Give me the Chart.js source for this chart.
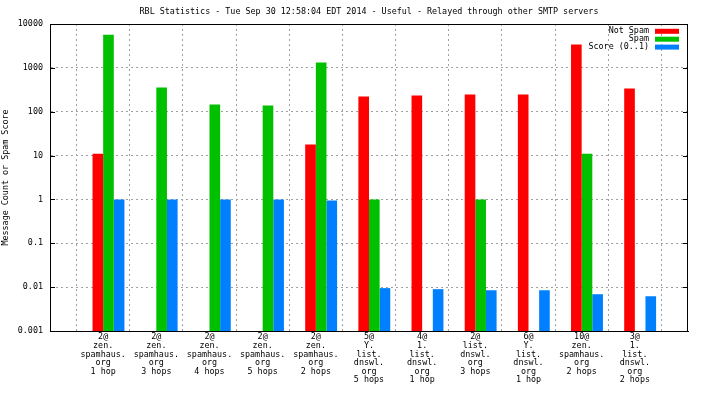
<!DOCTYPE html>
<html>
<head>
<meta charset="utf-8">
<script src="https://cdn.jsdelivr.net/npm/chart.js@4/dist/chart.umd.min.js"></script>
<style>
  body { margin: 0; background: #fff; }
  canvas { display: block; }
</style>
</head>
<body>
<canvas id="rbl" width="704" height="396"></canvas>
<script>
// categories: one multi-line label per RBL / hop count
const categories = [
    ['2@', 'zen.', 'spamhaus.', 'org', '1 hop'],
    ['2@', 'zen.', 'spamhaus.', 'org', '3 hops'],
    ['2@', 'zen.', 'spamhaus.', 'org', '4 hops'],
    ['2@', 'zen.', 'spamhaus.', 'org', '5 hops'],
    ['2@', 'zen.', 'spamhaus.', 'org', '2 hops'],
    ['5@', 'Y.', 'list.', 'dnswl.', 'org', '5 hops'],
    ['4@', '1.', 'list.', 'dnswl.', 'org', '1 hop'],
    ['2@', 'list.', 'dnswl.', 'org', '3 hops'],
    ['6@', 'Y.', 'list.', 'dnswl.', 'org', '1 hop'],
    ['10@', 'zen.', 'spamhaus.', 'org', '2 hops'],
    ['3@', '1.', 'list.', 'dnswl.', 'org', '2 hops'],
];
const notSpam = [11, null, null, null, 18, 223, 234, 247, 247, 3400, 340];
const spam = [5700, 356, 147, 139, 1320, 1, null, 1, null, 11, null];
const score = [1, 1, 1, 1, 0.95, 0.0095, 0.009, 0.0085, 0.0085, 0.0069, 0.0062];
const yTicks = [0.001, 0.01, 0.1, 1, 10, 100, 1000, 10000];

const chartTitle = 'RBL Statistics - Tue Sep 30 12:58:04 EDT 2014 - Useful - Relayed through other SMTP servers';

// empty category on each side, like gnuplot's xrange [-1:11]
const pad = arr => [null].concat(arr, [null]);
const labels = [''].concat(categories, ['']);

const FONT = '"DejaVu Sans Mono", monospace';
Chart.defaults.font.family = FONT;
Chart.defaults.font.size = 8.4;
Chart.defaults.color = '#000';

// title centred over the plot, legend inside the plot (text left of the swatch), closed frame
const framePlugin = {
    id: 'frame',
    afterDraw(chart) {
        const { ctx, chartArea: a, scales } = chart;
        ctx.save();
        ctx.strokeStyle = '#000';
        ctx.lineWidth = 1;
        ctx.beginPath();
        ctx.moveTo(Math.round(a.left) + 0.5, Math.round(a.top) + 0.5);
        ctx.lineTo(Math.round(a.right) - 0.5, Math.round(a.top) + 0.5);
        ctx.lineTo(Math.round(a.right) - 0.5, Math.round(a.bottom) + 0.5);
        ctx.stroke();

        // inward tick marks on the left and right sides
        yTicks.forEach(v => {
            const y = Math.round(scales.y.getPixelForValue(v)) + 0.5;
            ctx.beginPath();
            ctx.moveTo(a.left, y); ctx.lineTo(a.left + 5, y);
            ctx.moveTo(a.right - 5, y); ctx.lineTo(a.right, y);
            ctx.stroke();
        });

        ctx.font = '8.4px ' + FONT;
        ctx.fillStyle = '#000';
        ctx.textAlign = 'center';
        ctx.textBaseline = 'middle';
        ctx.fillText(chartTitle, (a.left + a.right) / 2, 12);

        ctx.textAlign = 'right';
        chart.data.datasets.filter(d => d.label).forEach((d, i) => {
            const y = a.top + 7.3 + i * 7.9;
            ctx.fillStyle = '#000';
            ctx.fillText(d.label, a.right - 39, y);
            ctx.fillStyle = d.backgroundColor;
            ctx.fillRect(a.right - 33, y - 2.5, 24, 5);
        });
        ctx.restore();
    }
};

const ctx = document.getElementById('rbl').getContext('2d');
new Chart(ctx, {
    type: 'bar',
    data: {
        labels: labels,
        datasets: [
            // spacer keeps the group shifted right of the tick, as in gnuplot
            { label: '', data: pad(categories.map(() => null)) },
            { label: 'Not Spam', data: pad(notSpam), backgroundColor: '#ff0000' },
            { label: 'Spam', data: pad(spam), backgroundColor: '#00c000' },
            { label: 'Score (0..1)', data: pad(score), backgroundColor: '#0080ff' },
        ]
    },
    options: {
        responsive: false,
        animation: false,
        layout: { padding: { left: 0, right: 16, top: 24, bottom: 0 } },
        datasets: {
            bar: { categoryPercentage: 0.8, barPercentage: 1.0, borderWidth: 0 }
        },
        plugins: {
            legend: { display: false },
            tooltip: { enabled: false },
            title: { display: false }
        },
        scales: {
            x: {
                offset: false,
                afterFit: s => { s.height = 65; },
                ticks: { autoSkip: false, maxRotation: 0, minRotation: 0, padding: 2, font: { lineHeight: 1.02 } },
                grid: { color: '#a0a0a0', drawTicks: false },
                border: { color: '#000', dash: [2, 3] }
            },
            y: {
                type: 'logarithmic',
                min: yTicks[0],
                max: yTicks[yTicks.length - 1],
                afterBuildTicks: s => { s.ticks = yTicks.map(v => ({ value: v })); },
                afterFit: s => { s.width = 50; },
                ticks: { callback: v => String(v), padding: 7 },
                grid: { color: '#a0a0a0', drawTicks: false },
                border: { color: '#000', dash: [2, 3] },
                title: {
                    display: true,
                    text: 'Message Count or Spam Score',
                    padding: { top: 1, bottom: 0 }
                }
            }
        }
    },
    plugins: [framePlugin]
});
</script>
</body>
</html>
